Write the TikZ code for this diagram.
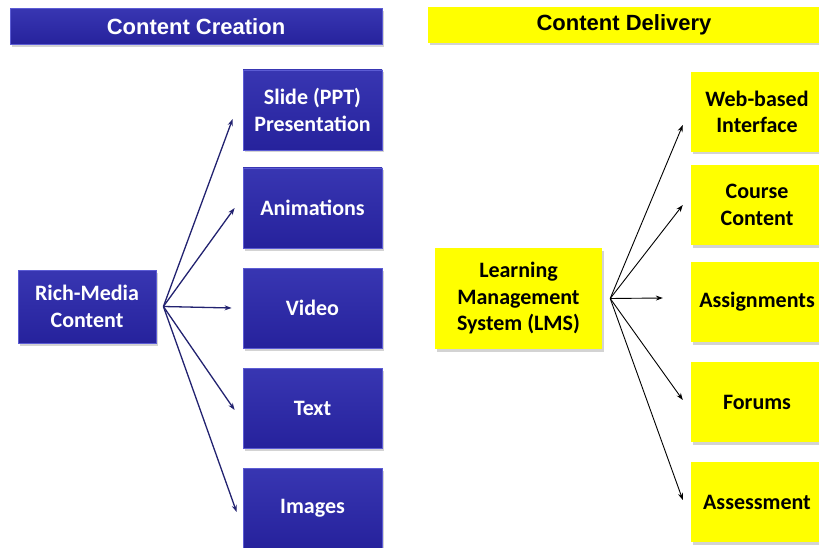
\documentclass[tikz,border=0pt]{standalone}
\usepackage{fontspec}
\setmainfont{Carlito}
\newfontfamily\headfont{Liberation Sans}
\usetikzlibrary{shadows}
\usetikzlibrary{arrows.meta}
\definecolor{navyfill}{RGB}{38,34,156}
\definecolor{navytop}{RGB}{56,54,178}
\definecolor{navyedge}{RGB}{92,92,212}
\definecolor{navyline}{RGB}{34,34,112}
\definecolor{lmsyellow}{RGB}{255,255,0}

\tikzset{
  shade/.style={drop shadow={shadow xshift=2pt,shadow yshift=-2.5pt,opacity=0.35}},
  bluebox/.style={shade,top color=navytop,bottom color=navyfill,draw=navyedge,line width=0.8pt,
    text=white,align=center,inner sep=0pt,minimum width=139pt,minimum height=80pt,
    font=\bfseries\fontsize{22}{26.5}\selectfont},
  yellowbox/.style={shade,fill=lmsyellow,text=black,align=center,inner sep=0pt,
    minimum width=132pt,minimum height=80pt,font=\bfseries\fontsize{22}{26.5}\selectfont},
  header/.style={shade,inner sep=0pt,minimum height=36pt,font=\headfont\bfseries\fontsize{22}{24}\selectfont},
  navyarrow/.style={navyline,line width=1.3pt,-{Stealth[length=7pt,width=5pt]}},
  blackarrow/.style={black,line width=0.9pt,-{Stealth[length=7pt,width=5pt]}}
}

\begin{document}
\begin{tikzpicture}[x=1pt,y=-1pt]
\useasboundingbox (0,0) rectangle (819,548);

\node[header,top color=navytop,bottom color=navyfill,draw=navyedge,line width=0.8pt,text=white,minimum width=372pt] at (196,26.5) (creation) {Content Creation};
\node[header,fill=lmsyellow,text=black,minimum width=392pt] at (624,25) (delivery) {Content Delivery};

% content creation
\node[bluebox,minimum width=138pt,minimum height=73pt] at (87,306.5) (rich) {Rich-Media\\Content};
\node[bluebox] at (312.5,110) (slide) {Slide (PPT)\\Presentation};
\node[bluebox] at ([yshift=-98pt]slide) (anim) {Animations};
\node[bluebox] at ([yshift=-100pt]anim) (video) {Video};
\node[bluebox] at ([yshift=-100pt]video) (text) {Text};
\node[bluebox] at ([yshift=-100pt]text) (images) {Images};

\coordinate (fan) at ([xshift=7pt]rich.east);
\draw[navyarrow] (fan) -- ([xshift=-10pt,yshift=-9pt]slide.west);
\draw[navyarrow] (fan) -- ([xshift=-8pt]anim.west);
\draw[navyarrow] (fan) -- ([xshift=-11pt]video.west);
\draw[navyarrow] (fan) -- ([xshift=-8pt,yshift=-2pt]text.west);
\draw[navyarrow] (fan) -- ([xshift=-6pt,yshift=-4pt]images.west);

% content delivery
\node[yellowbox,minimum width=167pt,minimum height=101pt] at (518.5,298.5) (lms) {Learning\\Management\\System (LMS)};
\node[yellowbox] at (757,112) (web) {Web-based\\Interface};
\node[yellowbox] at ([yshift=-93pt]web) (course) {Course\\Content};
\node[yellowbox] at ([yshift=-97pt]course) (assign) {Assignments};
\node[yellowbox] at ([yshift=-100pt]assign) (forums) {Forums};
\node[yellowbox] at ([yshift=-100pt]forums) (assess) {Assessment};

\coordinate (hub) at ([xshift=8pt]lms.east);
\draw[blackarrow] (hub) -- ([xshift=-8pt,yshift=-13pt]web.west);
\draw[blackarrow] (hub) -- ([xshift=-8pt]course.west);
\draw[blackarrow] (hub) -- ([xshift=-28pt,yshift=4pt]assign.west);
\draw[blackarrow] (hub) -- ([xshift=-8pt,yshift=2pt]forums.west);
\draw[blackarrow] (hub) -- ([xshift=-8pt,yshift=2pt]assess.west);

\end{tikzpicture}
\end{document}
